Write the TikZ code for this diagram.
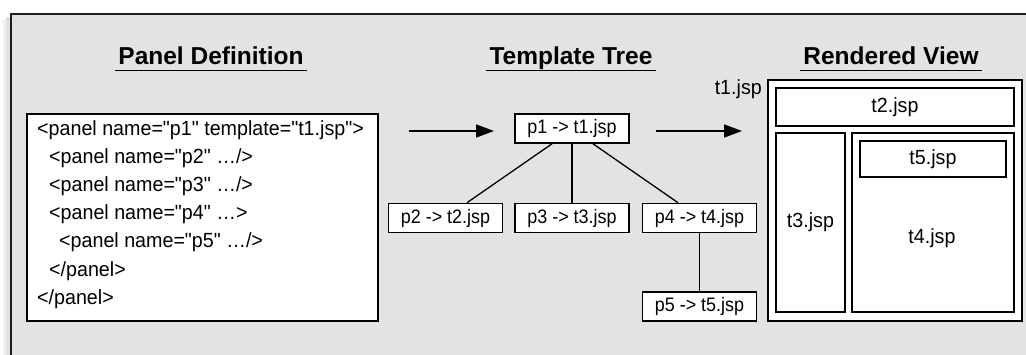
\documentclass[tikz,border=0pt]{standalone}
\usepackage{fontspec}
\setmainfont{Liberation Sans}
\newfontfamily\bodyfont[FakeStretch=0.96]{Liberation Sans}
\newfontfamily\treefont[FakeStretch=0.92]{Liberation Sans}
\usetikzlibrary{arrows.meta}
\definecolor{panelgray}{HTML}{E3E3E3}
\definecolor{framegray}{HTML}{1E1E1E}
\tikzset{
  x=1pt, y=-1pt,
  title/.style={font=\fontsize{24.5}{26}\selectfont\bfseries, anchor=base},
  uline/.style={line width=1.2pt},
  box/.style={draw=black, fill=white, line width=1.6pt, inner sep=0pt},
  boxtext/.style={font=\bodyfont\fontsize{20.5}{22}\selectfont},
  tree/.style={box, font=\treefont\fontsize{19.5}{21}\selectfont,
               minimum width=114pt, minimum height=29pt},
  edge/.style={line width=1.3pt},
  flow/.style={line width=1.6pt, -{Triangle[length=18pt,width=13pt]}},
}
\begin{document}
\begin{tikzpicture}
\useasboundingbox (0,0) rectangle (1026,354);
\fill[white] (0,0) rectangle (1026,354);
% outer panel with a soft shadow on its left
\fill[black!12] (6,17) rectangle (12,360);
\fill[black!6] (3,20) rectangle (6,360);
\draw[fill=panelgray, draw=framegray, line width=2.2pt] (11,14) rectangle (1040,370);

% column titles
\node[title] (tpd) at (211,64) {Panel Definition};
\draw[uline] (tpd.base west) ++(0,6.5) -- ([yshift=-6.5pt]tpd.base east);
\node[title] (ttt) at (571,64) {Template Tree};
\draw[uline] (ttt.base west) ++(0,6.5) -- ([yshift=-6.5pt]ttt.base east);
\node[title] (trv) at (891,64) {Rendered View};
\draw[uline] (trv.base west) ++(0,6.5) -- ([yshift=-6.5pt]trv.base east);

% panel definition source
\node[box, minimum width=351pt, minimum height=207pt] (src) at (202.5,217.5) {};
\node[boxtext, anchor=north west, align=left, inner sep=0pt,
      font=\bodyfont\fontsize{20.5}{28.2}\selectfont] (code) at (37,120)
  {<panel name="p1" template="t1.jsp">\\
   \hspace*{12pt}<panel name="p2" \dots/>\\
   \hspace*{12pt}<panel name="p3" \dots/>\\
   \hspace*{12pt}<panel name="p4" \dots>\\
   \hspace*{22pt}<panel name="p5" \dots/>\\
   \hspace*{12pt}</panel>\\
   </panel>};

% template tree
\node[tree] (p1) at (572,128.5) {p1 -> t1.jsp};
\node[tree] (p2) at (445.5,218) {p2 -> t2.jsp};
\node[tree] (p3) at (572,218) {p3 -> t3.jsp};
\node[tree] (p4) at (699.5,218) {p4 -> t4.jsp};
\node[tree] (p5) at (699.5,306.5) {p5 -> t5.jsp};
\draw[edge] ([xshift=-20pt]p1.south) -- ([xshift=21.5pt]p2.north);
\draw[edge] (p1.south) -- (p3.north);
\draw[edge] ([xshift=21pt]p1.south) -- ([xshift=-21.5pt]p4.north);
\draw[edge] (p4.south) -- (p5.north);

% flow arrows
\coordinate (a1s) at (409,131);
\coordinate (a2e) at (742,131);
\draw[flow] (a1s) -- (a1s -| {(494,0)});
\draw[flow] (a2e -| {(656,0)}) -- (a2e);

% rendered view
\node[box, minimum width=254pt, minimum height=241pt] (t1) at (895,200.5) {};
\node[boxtext, anchor=south east, inner sep=0pt] (t1l) at (762,99) {t1.jsp};
\node[box, boxtext, minimum width=238pt, minimum height=38pt] (t2) at (895,107) {t2.jsp};
\node[box, boxtext, minimum width=69pt, minimum height=179pt] (t3) at (810.5,222.5) {t3.jsp};
\node[box, minimum width=162pt, minimum height=179pt] (t4) at (933,222.5) {};
\node[boxtext] (t4l) at (932,238) {t4.jsp};
\node[box, boxtext, minimum width=146pt, minimum height=36pt] (t5) at (933,159) {t5.jsp};
\end{tikzpicture}
\end{document}
